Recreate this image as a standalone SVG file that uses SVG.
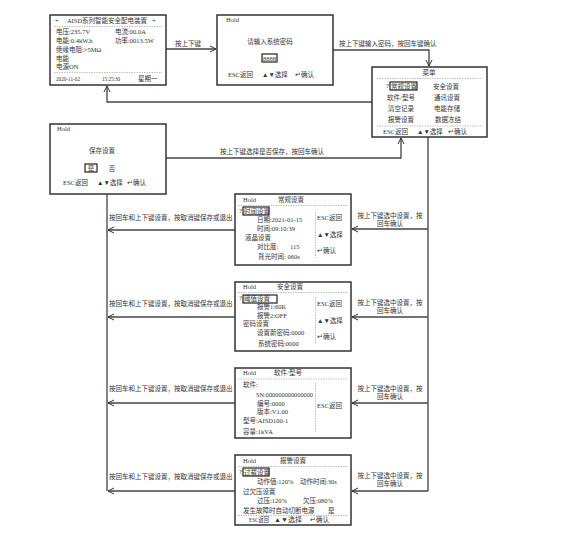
<svg xmlns="http://www.w3.org/2000/svg" width="563" height="539" viewBox="0 0 563 539">
<defs>
<style>
text{font-family:"Liberation Serif","Noto Sans CJK SC",serif;font-size:6.5px;fill:#333}
.c{text-anchor:middle}
.box{fill:#fff;stroke:#333;stroke-width:1.5}
.dash{stroke:#999;stroke-width:0.6;stroke-dasharray:1.5 1;fill:none}
.hl{fill:#fff;stroke:#222;stroke-width:1.2}
.ln{fill:none;stroke:#444;stroke-width:1.3}
.ln2{fill:none;stroke:#777;stroke-width:1.8}
</style>
<marker id="ah" markerWidth="8" markerHeight="8" refX="7" refY="4" orient="auto" markerUnits="userSpaceOnUse">
<path d="M1,1 L7,4 L1,7" fill="none" stroke="#333" stroke-width="1"/>
</marker>
</defs>
<rect width="563" height="539" fill="#fff"/>

<g id="connectors">
<path class="ln" d="M166,49 H216" marker-end="url(#ah)"/>
<text x="175" y="46">按上下键</text>
<path class="ln" d="M333,50 H429 V66" marker-end="url(#ah)"/>
<text x="339" y="46">按上下键输入密码，按回车键确认</text>
<path class="ln" d="M372,102 H107 V86" marker-end="url(#ah)"/>
<path class="ln" d="M166,158 H401 V138" marker-end="url(#ah)"/>
<text x="220" y="154">按上下键选择是否保存，按回车确认</text>
<path class="ln" d="M107,194 V491"/>
<path class="ln2" d="M428,137 V491"/>
<path class="ln" d="M428,229 H352" marker-end="url(#ah)"/>
<path class="ln" d="M428,317 H352" marker-end="url(#ah)"/>
<path class="ln" d="M428,403 H352" marker-end="url(#ah)"/>
<path class="ln" d="M428,491 H352" marker-end="url(#ah)"/>
<path class="ln" d="M235,230 H108" marker-end="url(#ah)"/>
<path class="ln" d="M235,317 H108" marker-end="url(#ah)"/>
<path class="ln" d="M235,403 H108" marker-end="url(#ah)"/>
<path class="ln" d="M235,491 H108" marker-end="url(#ah)"/>
<text x="109" y="220">按回车和上下键设置，按取消键保存或退出</text>
<text x="109" y="306">按回车和上下键设置，按取消键保存或退出</text>
<text x="109" y="391">按回车和上下键设置，按取消键保存或退出</text>
<text x="109" y="479">按回车和上下键设置，按取消键保存或退出</text>
<text class="c" x="390" y="218">按上下键选中设置，按</text><text class="c" x="390" y="226">回车确认</text>
<text class="c" x="390" y="305">按上下键选中设置，按</text><text class="c" x="390" y="313">回车确认</text>
<text class="c" x="390" y="391">按上下键选中设置，按</text><text class="c" x="390" y="399">回车确认</text>
<text class="c" x="390" y="478">按上下键选中设置，按</text><text class="c" x="390" y="486">回车确认</text>
</g>

<g id="main">
<rect class="box" x="50" y="15" width="116" height="70"/>
<text x="55" y="23">+</text><text class="c" x="107" y="23">AISD系列智能安全配电装置</text><text x="152" y="23">+</text>
<line class="dash" x1="54" y1="26.5" x2="162" y2="26.5"/>
<text x="56" y="34">电压:235.7V</text><text x="115" y="34">电流:00.0A</text>
<text x="56" y="43">电能:0.4kW.h</text><text x="115" y="43">功率:0013.5W</text>
<text x="56" y="52">绝缘电阻:&gt;5MΩ</text>
<text x="56" y="61">电能</text>
<text x="56" y="69">电源ON</text>
<line class="dash" x1="54" y1="72.5" x2="162" y2="72.5"/>
<text x="56" y="81" textLength="24" lengthAdjust="spacingAndGlyphs">2020-11-02</text>
<text x="102" y="81" textLength="18" lengthAdjust="spacingAndGlyphs">15:25:30</text>
<text x="138" y="81">星期一</text>
</g>

<g id="password">
<rect class="box" x="217" y="15" width="116" height="70"/>
<text x="226" y="22">Hold</text>
<text class="c" x="270" y="44">请输入系统密码</text>
<rect class="hl" x="262" y="54" width="15" height="8"/>
<text class="c" x="269.5" y="60.5">8888</text>
<text x="228" y="77">ESC返回</text><text x="262" y="77">▲▼选择</text><text x="295" y="77">↵确认</text>
</g>

<g id="menu">
<rect class="box" x="372" y="67" width="115" height="70"/>
<text class="c" x="429" y="75">菜单</text>
<line class="dash" x1="377" y1="78.5" x2="482" y2="78.5"/>
<text x="386" y="88">?</text>
<rect class="hl" x="390" y="82" width="27" height="8"/>
<text x="391" y="88.5">常规设置</text>
<text class="c" x="446" y="88.5">安全设置</text>
<text class="c" x="401" y="100">软件/型号</text><text class="c" x="447" y="100">通讯设置</text>
<text class="c" x="401" y="111">清空记录</text><text class="c" x="447" y="111">电能存储</text>
<text class="c" x="401" y="122">报警设置</text><text class="c" x="448" y="122">数据冻结</text>
<line class="dash" x1="377" y1="126" x2="482" y2="126"/>
<text x="383" y="134">ESC返回</text><text x="417" y="134">▲▼选择</text><text x="448" y="134">↵确认</text>
</g>

<g id="save">
<rect class="box" x="50" y="124" width="116" height="70"/>
<text x="57" y="131">Hold</text>
<text class="c" x="102" y="153">保存设置</text>
<rect class="hl" x="85" y="164" width="12" height="8"/>
<text class="c" x="91" y="170.5">是</text>
<text class="c" x="112" y="170.5">否</text>
<text x="63" y="185">ESC返回</text><text x="97" y="185">▲▼选择</text><text x="127" y="185">↵确认</text>
</g>

<g id="general">
<rect class="box" x="235" y="194" width="116" height="71"/>
<text x="243" y="202">Hold</text><text class="c" x="291" y="202">常规设置</text>
<line class="dash" x1="238" y1="205.5" x2="347" y2="205.5"/>
<text x="239" y="213">?</text>
<rect class="hl" x="243" y="207" width="26" height="8"/>
<text x="244" y="213.5">时间设置</text>
<text x="257" y="222">日期:2021-01-15</text>
<text x="257" y="231">时间:09:10:39</text>
<text x="245" y="240">液晶设置</text>
<text x="257" y="249">对比度:</text><text x="290" y="249">115</text>
<text x="258" y="259">背光时间: 060s</text>
<line class="dash" x1="315.5" y1="212" x2="315.5" y2="258"/>
<text x="317" y="220">ESC返回</text>
<text x="317" y="237">▲▼选择</text>
<text x="317" y="253">↵确认</text>
</g>

<g id="security">
<rect class="box" x="235" y="282" width="116" height="69"/>
<text x="243" y="289">Hold</text><text class="c" x="290" y="289">安全设置</text>
<line class="dash" x1="238" y1="292.5" x2="347" y2="292.5"/>
<text x="239" y="300">?</text>
<rect class="hl" x="243" y="295" width="34" height="8"/>
<text x="244" y="301">阈值设置</text>
<text x="257" y="309">报警1:60K</text>
<text x="257" y="318">报警2:OFF</text>
<text x="243" y="326">密码设置</text>
<text x="257" y="335">设置新密码:0000</text>
<text x="258" y="346">系统密码:0000</text>
<line class="dash" x1="315.5" y1="297" x2="315.5" y2="344"/>
<text x="317" y="306">ESC返回</text>
<text x="317" y="323">▲▼选择</text>
<text x="317" y="339">↵确认</text>
</g>

<g id="software">
<rect class="box" x="235" y="368" width="116" height="70"/>
<text x="243" y="375">Hold</text><text class="c" x="288" y="375">软件/型号</text>
<line class="dash" x1="238" y1="379" x2="347" y2="379"/>
<text x="243" y="387">软件:</text>
<text x="256" y="397" textLength="57" lengthAdjust="spacingAndGlyphs">SN:000000000000000</text>
<text x="257" y="406">编号:0000</text>
<text x="257" y="414">版本:V1.00</text>
<text x="243" y="423">型号:AISD100-1</text>
<text x="243" y="434">容量:1kVA</text>
<line class="dash" x1="315.5" y1="383" x2="315.5" y2="432"/>
<text x="317" y="408">ESC返回</text>
</g>

<g id="alarm">
<rect class="box" x="235" y="455" width="116" height="70"/>
<text x="243" y="463">Hold</text><text class="c" x="293" y="463">报警设置</text>
<line class="dash" x1="238" y1="466.5" x2="347" y2="466.5"/>
<text x="239" y="474">?</text>
<rect class="hl" x="243" y="468" width="26" height="8"/>
<text x="244" y="474.5">过载设置</text>
<text x="257" y="484">动作值:120%</text><text x="300" y="484">动作时间:30s</text>
<text x="243" y="494">过欠压设置</text>
<text x="257" y="503">过压:120%</text><text x="303" y="503">欠压:080%</text>
<text x="243" y="513">发生故障时自动切断电源</text><text x="328" y="513">是</text>
<line class="dash" x1="238" y1="515.5" x2="347" y2="515.5"/>
<text x="249" y="522" textLength="20" lengthAdjust="spacingAndGlyphs">ESC返回</text>
<text x="274" y="522" textLength="28" lengthAdjust="spacingAndGlyphs">▲▼选择</text>
<text x="310" y="522">↵确认</text>
</g>
</svg>
